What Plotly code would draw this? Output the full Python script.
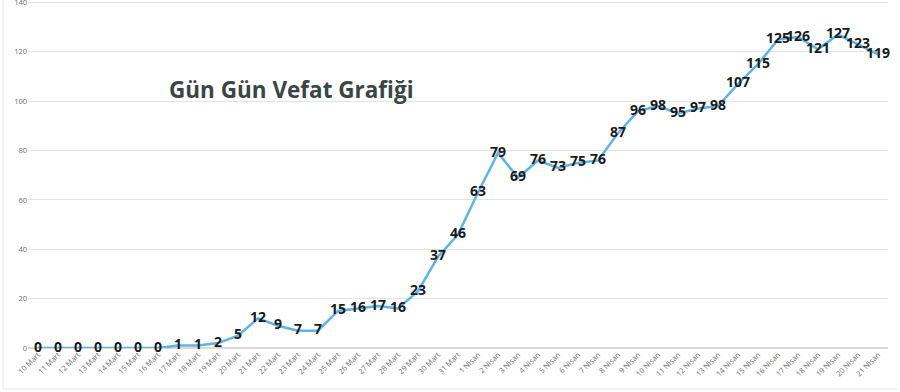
import plotly.graph_objects as go

mart = [f"{d} Mart" for d in range(10, 32)]
nisan = [f"{d} Nisan" for d in range(1, 22)]
dates = mart + nisan
deaths = [0, 0, 0, 0, 0, 0, 0, 1, 1, 2, 5, 12, 9, 7, 7, 15, 16, 17, 16, 23, 37, 46,
          63, 79, 69, 76, 73, 75, 76, 87, 96, 98, 95, 97, 98, 107, 115, 125, 126,
          121, 127, 123, 119]
y_ticks = [0, 20, 40, 60, 80, 100, 120, 140]
title = "Gün Gün Vefat Grafiği"

L, R, T, B = 28, 12, 0, 44
W, H = 900, 392
PW, PH = W - L - R, H - T - B

fig = go.Figure()
fig.add_trace(go.Scatter(
    x=list(range(len(dates))), y=deaths,
    mode="lines+text",
    line=dict(color="#5DB3E6", width=2.5),
    text=[str(v) for v in deaths],
    textposition="middle center",
    textfont=dict(family="Open Sans", size=14, color="#1a1a1a", weight=700),
    cliponaxis=False,
    hoverinfo="skip",
))

fig.update_layout(
    width=W, height=H,
    margin=dict(l=L, r=R, t=T, b=B, autoexpand=False),
    paper_bgcolor="white", plot_bgcolor="white",
    showlegend=False,
    xaxis=dict(
        tickmode="array", tickvals=list(range(len(dates))), ticktext=dates,
        range=[-0.5, len(dates) - 0.5],
        tickangle=-45, automargin=False,
        tickfont=dict(family="Open Sans", size=7.5, color="#6b6b6b"),
        showgrid=False, zeroline=False, showline=False, ticks="",
    ),
    yaxis=dict(
        range=[0, 141], tickvals=y_ticks, automargin=False,
        ticklabeloverflow="allow",
        tickfont=dict(family="Open Sans", size=7.5, color="#6b6b6b"),
        showgrid=True, gridcolor="#e3e3e3", gridwidth=1,
        zeroline=True, zerolinecolor="#d9d9d9", showline=False, ticks="",
    ),
    annotations=[dict(
        text="<b>" + title + "</b>",
        x=(167 - L) / PW, y=(H - B - 90) / PH,
        xref="paper", yref="paper", xanchor="left", yanchor="middle",
        showarrow=False,
        font=dict(family="Open Sans", size=22.5, color="#3b4546"),
    )],
    shapes=[
        dict(type="line", xref="paper", yref="paper",
             x0=(3 - L) / PW, x1=(3 - L) / PW, y0=(H - B - 389) / PH, y1=1.01,
             line=dict(color="#e6e6e6", width=1)),
        dict(type="line", xref="paper", yref="paper",
             x0=(3 - L) / PW, x1=(897 - L) / PW,
             y0=(H - B - 389) / PH, y1=(H - B - 389) / PH,
             line=dict(color="#e6e6e6", width=1)),
    ],
)

fig.write_html("out.html", config={"displayModeBar": False},
               post_script="document.body.style.margin='0';document.body.style.overflow='hidden';")
